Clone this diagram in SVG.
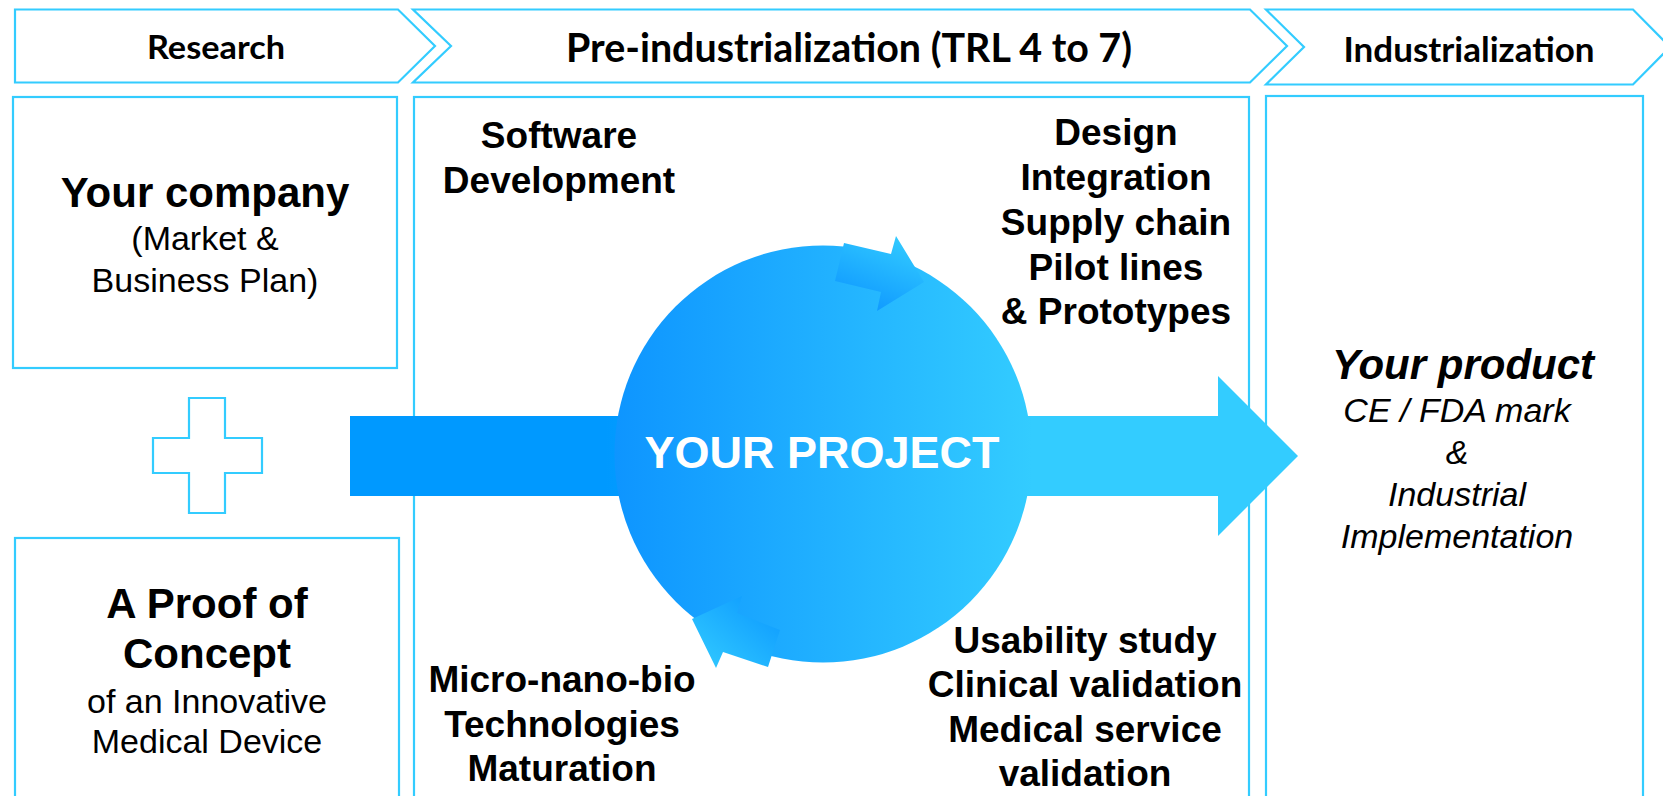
<svg xmlns="http://www.w3.org/2000/svg" width="1663" height="796" viewBox="0 0 1663 796">
<style>
.frame{fill:none;stroke:#33CCFF;stroke-width:2.2}
.chev{fill:#FFFFFF;stroke:#33CCFF;stroke-width:2.2}
.hdr{font-family:Lato,"Open Sans","Liberation Sans",sans-serif;font-weight:bold;fill:#000;text-anchor:middle}
.b{font-family:"Liberation Sans",Arial,sans-serif;font-weight:bold;fill:#000;text-anchor:middle}
.r{font-family:"Liberation Sans",Arial,sans-serif;fill:#000;text-anchor:middle}
.bi{font-family:"Liberation Sans",Arial,sans-serif;font-weight:bold;font-style:italic;fill:#000;text-anchor:middle}
.i{font-family:"Liberation Sans",Arial,sans-serif;font-style:italic;fill:#000;text-anchor:middle}
</style>
<defs>
<linearGradient id="gArrow" gradientUnits="userSpaceOnUse" x1="350" y1="0" x2="1298" y2="0">
<stop offset="0" stop-color="#0099FF"/>
<stop offset="0.27" stop-color="#0099FF"/>
<stop offset="0.72" stop-color="#33CCFF"/>
<stop offset="1" stop-color="#33CCFF"/>
</linearGradient>
<linearGradient id="gCircle" gradientUnits="userSpaceOnUse" x1="615" y1="0" x2="1032" y2="0">
<stop offset="0" stop-color="#0E95FF"/>
<stop offset="1" stop-color="#33CCFF"/>
</linearGradient>
<linearGradient id="gTop" x1="0.8" y1="0" x2="0.3" y2="1">
<stop offset="0" stop-color="#33CCFF"/>
<stop offset="1" stop-color="#0E97FF"/>
</linearGradient>
<linearGradient id="gBot" x1="0" y1="1" x2="1" y2="0">
<stop offset="0" stop-color="#33CCFF"/>
<stop offset="1" stop-color="#0A96FF"/>
</linearGradient>
</defs>

<g id="header-research">
<path class="chev" d="M15,9.5 H398 L435,46 L398,82.5 H15 Z"/>
<text class="hdr" x="216" y="59" font-size="33" textLength="138" lengthAdjust="spacingAndGlyphs">Research</text>
</g>
<g id="header-preindustrialization">
<path class="chev" d="M413,9.5 H1250 L1287,46 L1250,82.5 H413 L451,46 Z"/>
<text class="hdr" x="849" y="62" font-size="41" textLength="566" lengthAdjust="spacingAndGlyphs">Pre-industrialization (TRL 4 to 7)</text>
</g>
<g id="header-industrialization">
<path class="chev" d="M1266,9.5 H1633 L1670,47 L1633,84.5 H1266 L1304,47 Z"/>
<text class="hdr" x="1469" y="61.5" font-size="34" textLength="251" lengthAdjust="spacingAndGlyphs">Industrialization</text>
</g>

<g id="box-company">
<rect class="frame" x="13" y="97" width="384" height="271"/>
<text class="b" x="205" y="207" font-size="42">Your company</text>
<text class="r" x="205" y="250" font-size="34">(Market &amp;</text>
<text class="r" x="205" y="291.5" font-size="34">Business Plan)</text>
</g>

<g id="plus">
<path class="frame" d="M189,398 H225 V438 H262 V473 H225 V513 H189 V473 H153 V438 H189 Z"/>
</g>

<g id="box-poc">
<rect class="frame" x="15" y="538" width="384" height="300"/>
<text class="b" x="207" y="618" font-size="42">A Proof of</text>
<text class="b" x="207" y="667.5" font-size="42">Concept</text>
<text class="r" x="207" y="712.5" font-size="34">of an Innovative</text>
<text class="r" x="207" y="753" font-size="34">Medical Device</text>
</g>

<g id="box-preindustrialization">
<rect class="frame" x="414" y="97" width="835" height="750"/>
</g>

<g id="box-industrialization">
<rect class="frame" x="1266" y="96" width="377" height="750"/>
<text class="bi" x="1463" y="379" font-size="42">Your product</text>
<text class="i" x="1457" y="422" font-size="34">CE / FDA mark</text>
<text class="i" x="1457" y="464" font-size="34">&amp;</text>
<text class="i" x="1457" y="506" font-size="34">Industrial</text>
<text class="i" x="1457" y="548" font-size="34">Implementation</text>
</g>

<g id="connectors">
<path id="main-arrow" d="M350,416 H1218 V376 L1298,456 L1218,536 V496 H350 Z" fill="url(#gArrow)"/>
</g>

<g id="project">
<circle cx="823" cy="454" r="208.5" fill="url(#gCircle)"/>
<path d="M844,243 L891,254 L896,236 L924,282 L877,311 L881,292 L835,281 Z" fill="url(#gTop)"/>
<path d="M692,619 L742,596 L737,613 L780,630 L768,667 L723,652 L716,668 Z" fill="url(#gBot)"/>
<text x="822" y="468" font-size="45" font-family="Liberation Sans, Arial, sans-serif" font-weight="bold" fill="#FFFFFF" text-anchor="middle">YOUR PROJECT</text>
</g>

<g id="task-software">
<text class="b" x="559" y="148" font-size="37">Software</text>
<text class="b" x="559" y="192.5" font-size="37">Development</text>
</g>
<g id="task-design">
<text class="b" x="1116" y="145" font-size="37">Design</text>
<text class="b" x="1116" y="190" font-size="37">Integration</text>
<text class="b" x="1116" y="235" font-size="37">Supply chain</text>
<text class="b" x="1116" y="279.5" font-size="37">Pilot lines</text>
<text class="b" x="1116" y="323.5" font-size="37">&amp; Prototypes</text>
</g>
<g id="task-micro">
<text class="b" x="562" y="691.5" font-size="37">Micro-nano-bio</text>
<text class="b" x="562" y="736.5" font-size="37">Technologies</text>
<text class="b" x="562" y="781" font-size="37">Maturation</text>
</g>
<g id="task-usability">
<text class="b" x="1085" y="653" font-size="37">Usability study</text>
<text class="b" x="1085" y="697" font-size="37">Clinical validation</text>
<text class="b" x="1085" y="741.5" font-size="37">Medical service</text>
<text class="b" x="1085" y="785.5" font-size="37">validation</text>
</g>
</svg>
